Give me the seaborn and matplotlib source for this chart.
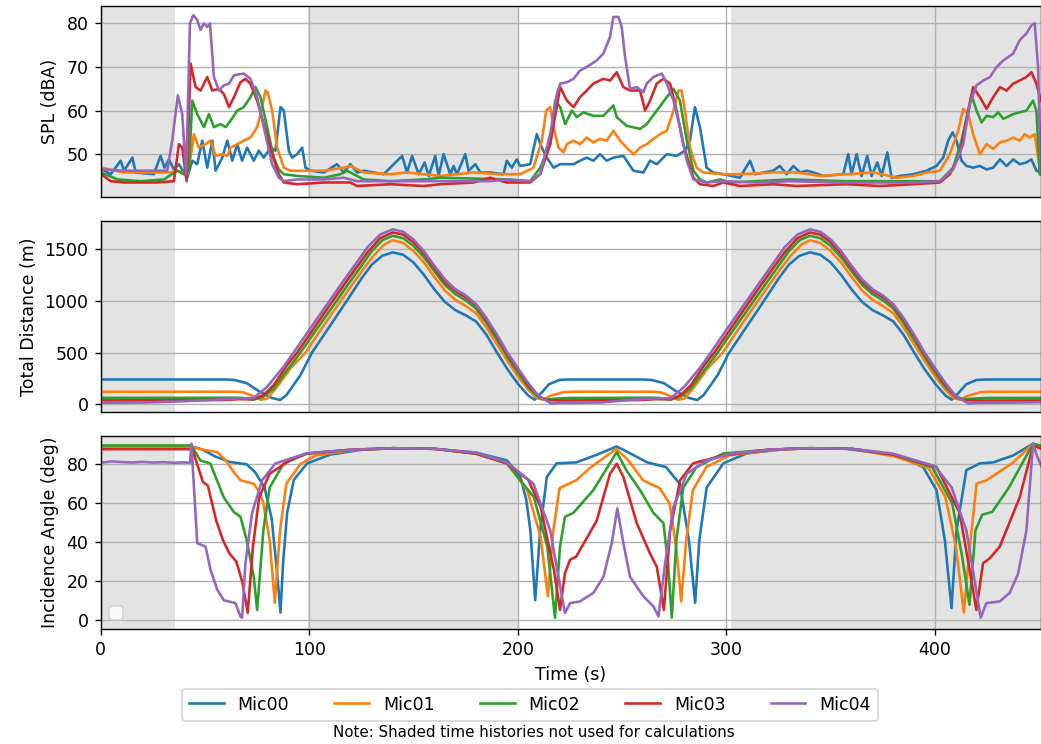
import matplotlib
matplotlib.use("Agg")
import matplotlib.pyplot as plt
import pandas as pd
import seaborn as sns

# --- data (time in s) ---
mics = ["Mic00", "Mic01", "Mic02", "Mic03", "Mic04"]
colors = ["#1f77b4", "#ff7f0e", "#2ca02c", "#d62728", "#9467bd"]

# SPL (dBA)
s00_t = [0.8, 4.8, 9.6, 11.2, 15.2, 16.8, 25.5, 28.7, 30.6, 32.7, 35.1, 37.5, 41.5, 43.9, 46.3, 48.7, 51.1, 53.5, 55.1, 58.3,
         60.7, 63.1, 65.5, 67.8, 70.2, 73.4, 75.8, 78.2, 81.4, 83.8, 86.2, 87.8, 90.2, 91.8, 94.2, 96.6, 98.2, 100.6, 107.0, 113.3,
         116.5, 119.7, 122.9, 126.1, 135.7, 144.5, 146.9, 149.3, 152.5, 155.3, 157.3, 160.4, 162.0, 164.4, 167.6, 169.2, 170.8, 174.8, 176.4, 179.6,
         182.0, 186.7, 193.1, 194.7, 197.1, 199.5, 201.1, 205.9, 209.1, 211.5, 213.9, 217.1, 220.3, 226.7, 229.8, 233.0, 236.2, 239.4, 242.6, 245.8,
         250.6, 255.4, 260.2, 263.4, 266.6, 271.4, 276.1, 280.1, 282.5, 284.9, 287.3, 290.5, 293.7, 298.5, 306.5, 311.3, 313.7, 322.4, 325.6, 328.9,
         332.1, 335.3, 338.5, 341.7, 346.5, 356.0, 358.4, 360.0, 362.4, 364.8, 367.5, 369.6, 372.3, 374.4, 377.1, 379.2, 383.2, 389.6, 395.9, 400.7,
         403.9, 406.3, 408.4, 410.3, 412.7, 415.1, 418.3, 421.5, 424.7, 427.9, 431.1, 434.3, 437.5, 440.6, 443.8, 446.2, 448.6, 450.7]
s00_v = [46.5, 45.4, 48.5, 46.2, 49.2, 45.8, 45.4, 49.6, 46.9, 48.8, 46.5, 47.7, 44.6, 48.5, 47.7, 53.1, 46.9, 53.1, 46.2, 49.2,
         53.1, 48.5, 52.3, 48.5, 51.5, 48.5, 50.8, 49.2, 51.5, 50.8, 60.8, 60.0, 50.8, 49.2, 50.0, 51.5, 46.9, 46.2, 45.8, 47.7,
         45.8, 47.7, 45.8, 46.2, 45.4, 49.6, 45.8, 49.6, 45.4, 48.1, 45.0, 49.6, 45.0, 50.0, 45.4, 47.3, 45.4, 50.0, 46.2, 47.7,
         45.8, 45.8, 45.4, 48.5, 46.9, 48.8, 47.3, 47.7, 54.6, 51.5, 49.2, 46.9, 47.7, 47.7, 48.5, 49.2, 48.5, 50.0, 48.5, 49.2,
         49.6, 46.2, 45.8, 48.5, 47.7, 50.0, 49.6, 50.8, 53.1, 60.8, 56.2, 46.9, 45.8, 45.4, 44.6, 48.5, 45.4, 46.2, 47.3, 45.4,
         47.3, 45.8, 46.2, 45.8, 45.0, 45.4, 50.0, 45.4, 50.0, 45.0, 49.6, 45.0, 48.1, 45.0, 50.4, 44.6, 45.0, 45.4, 46.2, 47.3,
         49.2, 53.1, 55.0, 53.1, 48.5, 47.3, 46.9, 47.3, 46.5, 46.9, 48.8, 47.3, 48.8, 47.7, 48.1, 48.8, 46.2, 45.8]
s01_t = [0.3, 11.2, 33.5, 36.7, 41.5, 43.1, 44.7, 47.1, 50.3, 52.7, 55.1, 58.3, 60.7, 62.3, 65.5, 68.6, 71.8, 75.0, 76.6, 79.0,
         80.1, 82.2, 84.6, 87.8, 91.0, 97.4, 107.0, 116.5, 119.7, 126.1, 138.9, 146.9, 154.9, 162.8, 178.8, 191.5, 201.1, 207.5, 211.5, 213.6,
         215.5, 217.1, 219.5, 221.9, 223.5, 226.7, 229.8, 233.0, 236.2, 239.4, 242.6, 245.8, 249.0, 252.2, 255.4, 258.6, 261.8, 265.0, 268.2, 271.4,
         274.6, 277.0, 278.5, 280.1, 282.5, 285.7, 288.9, 298.5, 306.5, 322.4, 333.7, 344.9, 357.6, 370.4, 381.6, 389.6, 395.9, 402.3, 407.1, 411.1,
         413.5, 415.9, 418.3, 421.5, 424.7, 427.9, 431.1, 434.3, 437.5, 440.6, 443.0, 445.4, 447.8, 449.4, 450.7]
s01_v = [46.9, 45.8, 45.8, 46.2, 45.4, 49.2, 54.6, 51.5, 52.3, 53.1, 49.6, 50.0, 49.6, 51.5, 52.3, 53.1, 53.8, 56.2, 59.2, 64.6,
         64.2, 60.0, 51.5, 46.9, 46.2, 46.2, 46.2, 46.9, 47.3, 45.8, 45.4, 45.8, 45.4, 45.0, 45.8, 45.4, 45.4, 46.9, 53.1, 60.0,
         60.8, 56.2, 51.5, 50.4, 52.3, 53.1, 52.3, 53.8, 52.7, 53.5, 53.1, 55.4, 53.1, 51.5, 50.0, 51.5, 52.3, 53.5, 54.6, 55.4,
         60.0, 64.6, 64.6, 60.0, 51.5, 46.9, 45.8, 45.4, 45.4, 45.8, 45.8, 45.0, 45.4, 45.8, 44.6, 45.0, 45.8, 46.2, 50.0, 55.4,
         60.4, 59.2, 54.6, 50.0, 52.3, 51.2, 52.7, 53.1, 53.8, 53.1, 54.6, 53.8, 54.6, 49.2, 45.4]
s02_t = [0.3, 8.0, 19.2, 30.3, 36.7, 39.9, 42.3, 43.9, 46.3, 49.5, 51.9, 54.3, 57.5, 59.9, 62.3, 65.5, 68.6, 71.8, 74.2, 76.6,
         79.8, 83.0, 85.4, 87.8, 94.2, 107.0, 115.0, 118.1, 126.1, 138.9, 154.9, 162.8, 194.7, 205.9, 210.7, 215.5, 217.9, 220.3, 222.7, 225.9,
         228.3, 231.4, 236.2, 241.0, 243.4, 245.8, 247.4, 252.2, 258.6, 261.8, 266.6, 271.4, 274.6, 277.7, 281.0, 284.2, 287.3, 290.5, 296.9, 301.7,
         314.5, 330.4, 357.6, 402.3, 408.7, 412.7, 415.9, 417.5, 419.9, 422.3, 424.7, 427.9, 430.3, 432.7, 437.5, 443.8, 447.0, 448.6, 450.2]
s02_v = [45.8, 44.2, 43.8, 44.2, 46.2, 45.4, 46.2, 62.3, 59.2, 56.2, 59.2, 56.2, 56.9, 56.2, 57.7, 60.0, 60.8, 63.1, 65.4, 63.1,
         56.2, 49.2, 46.5, 45.4, 45.0, 44.6, 45.4, 46.2, 44.2, 43.8, 44.2, 44.6, 44.2, 43.8, 46.9, 52.3, 62.3, 60.8, 56.9, 60.0,
         58.5, 59.6, 58.8, 58.8, 60.0, 61.2, 58.5, 56.5, 55.8, 56.9, 60.0, 63.1, 65.0, 62.3, 53.1, 46.2, 44.2, 43.5, 44.2, 43.5,
         43.8, 44.2, 43.8, 43.8, 46.9, 53.1, 60.0, 63.5, 60.0, 57.3, 58.8, 58.5, 59.6, 58.1, 59.2, 60.0, 62.3, 60.0, 45.4]
s03_t = [0.3, 4.8, 11.2, 27.1, 35.1, 37.5, 39.1, 41.2, 43.1, 45.5, 47.9, 51.1, 53.5, 56.7, 59.1, 61.5, 63.9, 67.0, 69.4, 71.8,
         75.0, 78.2, 82.2, 85.4, 87.8, 94.2, 107.0, 119.7, 122.9, 138.9, 154.9, 162.8, 178.8, 186.7, 194.7, 205.9, 210.7, 215.5, 220.3, 223.5,
         226.7, 229.8, 233.0, 236.2, 241.0, 244.2, 247.4, 250.6, 253.8, 258.6, 261.0, 263.4, 266.6, 269.8, 273.0, 276.1, 279.3, 284.2, 287.3, 293.7,
         298.5, 306.5, 322.4, 333.7, 357.6, 373.6, 389.6, 402.3, 407.1, 411.9, 415.9, 418.3, 421.5, 424.7, 427.9, 431.1, 434.3, 437.5, 440.6, 443.8,
         446.2, 448.6, 450.7]
s03_v = [45.4, 43.8, 43.5, 43.5, 43.8, 52.3, 51.5, 43.8, 70.8, 65.4, 64.6, 67.7, 64.6, 65.0, 63.8, 60.8, 63.1, 66.5, 67.3, 66.2,
         62.3, 56.9, 50.0, 45.4, 43.5, 43.1, 43.5, 43.5, 42.7, 43.1, 42.7, 43.1, 43.5, 44.6, 43.5, 43.5, 45.4, 52.3, 65.4, 62.3,
         60.8, 63.1, 64.6, 66.2, 67.3, 66.9, 68.8, 65.4, 64.6, 64.6, 60.0, 62.3, 66.2, 67.3, 66.2, 60.0, 52.3, 44.6, 43.1, 42.7,
         43.5, 42.7, 43.1, 42.7, 43.1, 42.7, 43.1, 43.5, 45.4, 50.0, 60.0, 65.4, 63.1, 60.4, 63.1, 65.4, 64.6, 66.2, 66.9, 67.7,
         68.8, 66.2, 62.3]
s04_t = [0.3, 11.2, 24.0, 31.9, 34.3, 37.0, 39.1, 41.0, 42.8, 44.4, 46.3, 47.9, 49.5, 51.1, 52.4, 54.3, 56.7, 59.1, 61.5, 63.9,
         68.6, 71.8, 75.0, 78.2, 82.2, 85.4, 87.8, 94.2, 107.0, 116.5, 122.9, 138.9, 154.9, 162.8, 186.7, 194.7, 205.9, 210.7, 215.5, 218.7,
         220.3, 223.5, 226.7, 229.8, 233.0, 237.8, 241.0, 244.2, 245.8, 248.2, 249.8, 251.4, 253.8, 257.0, 260.2, 261.8, 265.0, 269.0, 271.4, 274.6,
         277.7, 281.0, 284.2, 290.5, 298.5, 314.5, 330.4, 357.6, 389.6, 402.3, 408.7, 413.5, 416.7, 419.9, 423.1, 426.3, 429.5, 432.7, 437.5, 440.6,
         443.8, 446.2, 447.8, 449.4, 450.7]
s04_v = [46.5, 46.2, 46.2, 46.2, 53.1, 63.5, 59.2, 45.4, 80.0, 81.9, 80.8, 78.5, 80.0, 79.2, 80.0, 67.7, 64.6, 65.8, 66.2, 68.1,
         68.5, 67.3, 63.1, 56.2, 47.7, 44.6, 43.8, 44.2, 44.2, 44.6, 43.8, 43.8, 43.8, 43.8, 43.8, 44.2, 43.8, 45.4, 54.6, 63.8,
         66.2, 66.5, 67.3, 69.2, 70.0, 71.5, 73.1, 76.9, 81.5, 81.5, 79.2, 72.3, 65.0, 65.4, 64.2, 66.2, 67.7, 68.5, 66.2, 62.3,
         56.2, 48.5, 44.2, 43.5, 43.8, 43.5, 43.8, 43.5, 43.5, 43.8, 46.5, 52.3, 61.5, 65.8, 66.9, 67.7, 70.0, 71.5, 73.1, 76.2,
         77.7, 79.6, 80.0, 70.0, 46.2]

# Total distance (m)
d00_t = [0, 60, 64, 70, 76, 82, 86, 89, 95.8, 101.3, 110, 118, 125, 130, 135, 140, 145, 150, 155, 160,
         165, 170, 175, 180, 185, 190, 195, 200, 205, 208, 211, 215, 220, 224,
         260, 264, 270, 276, 282, 286, 289, 295.8, 301.3, 310, 318, 325, 330, 335, 340, 345, 350, 355, 360, 365,
         370, 375, 380, 385, 390, 395, 400, 405, 408, 411, 415, 420, 424, 451]
d00_v = [240, 240, 236, 205, 125, 62, 42, 88, 283, 500, 760, 1000, 1215, 1350, 1435, 1468, 1445, 1370, 1250, 1110,
         990, 910, 860, 800, 670, 500, 340, 200, 85, 45, 105, 195, 236, 240,
         240, 236, 205, 125, 62, 42, 88, 283, 500, 760, 1000, 1215, 1350, 1435, 1468, 1445, 1370, 1250, 1110, 990,
         910, 860, 800, 670, 500, 340, 200, 85, 45, 105, 195, 236, 240, 240]
d01_t = [0, 64, 68, 72, 76.6, 79.8, 84.6, 91, 98.2, 105, 112, 120, 126, 131, 136, 140, 145, 150, 155, 160,
         165, 170, 175, 180, 185, 190, 195, 200, 205, 209, 212, 216, 222, 226,
         264, 268, 272, 276.6, 279.8, 284.6, 291, 298.2, 305, 312, 320, 326, 331, 336, 340, 345, 350, 355, 360, 365,
         370, 375, 380, 385, 390, 395, 400, 405, 409, 412, 416, 422, 426, 451]
d01_v = [122, 122, 118, 90, 45, 55, 170, 348, 500, 705, 910, 1140, 1310, 1440, 1545, 1585, 1560, 1480, 1370, 1230,
         1100, 1010, 950, 880, 740, 580, 420, 270, 140, 60, 45, 85, 118, 122,
         122, 118, 90, 45, 55, 170, 348, 500, 705, 910, 1140, 1310, 1440, 1545, 1585, 1560, 1480, 1370, 1230, 1100,
         1010, 950, 880, 740, 580, 420, 270, 140, 60, 45, 85, 118, 122, 122]
d02_t = [0, 64, 68, 73.3, 78.1, 83, 89.4, 95.8, 103, 110, 118, 124, 130, 135, 140, 145, 150, 155, 160, 165,
         170, 175, 180, 185, 190, 195, 200, 205, 210, 213, 218, 225,
         264, 268, 273.3, 278.1, 283, 289.4, 295.8, 303, 310, 318, 324, 330, 335, 340, 345, 350, 355, 360, 365, 370,
         375, 380, 385, 390, 395, 400, 405, 410, 413, 418, 425, 451]
d02_v = [62, 64, 62, 45, 75, 155, 331, 500, 710, 910, 1140, 1310, 1480, 1585, 1628, 1605, 1530, 1420, 1285, 1155,
         1065, 1005, 925, 785, 625, 460, 305, 165, 68, 45, 55, 62,
         64, 62, 45, 75, 155, 331, 500, 710, 910, 1140, 1310, 1480, 1585, 1628, 1605, 1530, 1420, 1285, 1155, 1065,
         1005, 925, 785, 625, 460, 305, 165, 68, 45, 55, 62, 62]
d03_t = [0, 60, 66, 73, 78.1, 83, 89.4, 94.2, 101, 108, 116, 122, 128, 134, 140, 145, 150, 155, 160, 165,
         170, 175, 180, 185, 190, 195, 200, 205, 210, 214, 220,
         260, 266, 273, 278.1, 283, 289.4, 294.2, 301, 308, 316, 322, 328, 334, 340, 345, 350, 355, 360, 365, 370,
         375, 380, 385, 390, 395, 400, 405, 410, 414, 420, 451]
d03_v = [38, 42, 50, 48, 90, 186, 380, 500, 700, 905, 1135, 1305, 1470, 1605, 1660, 1640, 1565, 1455, 1315, 1185,
         1095, 1035, 955, 815, 655, 485, 335, 185, 78, 40, 37,
         42, 50, 48, 90, 186, 380, 500, 700, 905, 1135, 1305, 1470, 1605, 1660, 1640, 1565, 1455, 1315, 1185, 1095,
         1035, 955, 815, 655, 485, 335, 185, 78, 40, 37, 38]
d04_t = [0, 20, 40, 55, 67, 73.3, 79.8, 87.7, 92.5, 100, 108, 116, 122, 128, 134, 140, 145, 150, 155, 160,
         165, 170, 175, 180, 185, 190, 195, 200, 205, 210, 216,
         220, 240, 255, 267, 273.3, 279.8, 287.7, 292.5, 300, 308, 316, 322, 328, 334, 340, 345, 350, 355, 360, 365,
         370, 375, 380, 385, 390, 395, 400, 405, 410, 416, 420, 440, 451]
d04_v = [15, 18, 30, 45, 58, 60, 170, 363, 500, 720, 950, 1180, 1350, 1520, 1640, 1690, 1667, 1592, 1478, 1338,
         1208, 1112, 1052, 967, 832, 672, 500, 350, 205, 80, 8,
         14, 18, 45, 58, 60, 170, 363, 500, 720, 950, 1180, 1350, 1520, 1640, 1690, 1667, 1592, 1478, 1338, 1208,
         1112, 1052, 967, 832, 672, 500, 350, 205, 80, 8, 14, 18, 22]

# Incidence angle (deg)
a00_t = [0, 43.5, 46, 49, 55, 62, 70, 74, 78.6, 82, 84.5, 86.2, 87.5, 89.4, 92.6, 99, 110, 125, 140, 160,
         180, 194.8, 201.2, 204, 206, 208.3, 210.7, 213.9, 218.6, 228, 238, 247.4, 255, 262, 271, 277.6, 282, 285, 287, 290.5,
         298.5, 309.6, 328.7, 340, 357.6, 381.5, 394.3, 400.7, 404.7, 407.9, 410.3, 415, 421.5, 427.9, 437.5, 447, 451]
a00_v = [89.3, 89.3, 88.5, 87.5, 84, 81.2, 80, 76, 68, 52, 25, 3.7, 30, 55, 72, 80.5, 85, 87.5, 88.3, 88,
         86, 82, 73.5, 62, 46, 10, 46, 73.5, 80.5, 81, 85, 89.2, 85, 81, 78.6, 70, 41, 8.7, 41, 68,
         80.5, 85.6, 88, 88.3, 88, 84.6, 78.6, 66.7, 41, 6, 46, 77, 80.5, 81, 84.6, 90.6, 89]
a01_t = [0, 43.5, 47, 52, 55.9, 60, 63.8, 67, 73.4, 76, 78, 81, 83.5, 86, 89, 95.6, 103, 120, 140, 160,
         180, 194.8, 204.5, 210.9, 214.4, 217, 220, 228, 234.4, 247.2, 253, 260, 268, 272.7, 275.9, 278.3, 280.7, 283.9, 290.3, 301.5,
         320, 340, 360, 381, 397, 405, 410, 413.8, 416.7, 419.9, 424.7, 429.5, 437.5, 447, 451]
a01_v = [89, 89, 88, 87, 86.3, 82, 76, 71.8, 70, 66, 60, 41, 8.7, 46, 70, 80, 84.6, 87.2, 88.3, 88,
         85.5, 80.5, 66.7, 42.7, 12, 46, 67.7, 71.8, 78, 88, 82, 71.8, 67.7, 60, 37.6, 9.4, 41, 66.7, 78.6, 84.6,
         87.2, 88.3, 88, 84, 78, 63, 37.6, 3.7, 37.6, 70, 71.8, 75.2, 81, 90.6, 89]
a02_t = [0, 43.5, 47.8, 52.6, 59, 63.8, 67, 70, 73.4, 75, 78, 81, 87.7, 99, 120, 140, 160, 180, 194.8, 207.7,
         214.1, 217.8, 220.2, 222.6, 226.6, 236.2, 247.4, 252, 258.6, 265, 269.8, 272, 273.8, 276, 279.3, 285.7, 298.5, 320, 340, 360,
         380, 398.6, 408.2, 413, 416.5, 419.4, 422.6, 427.4, 435.4, 447, 451]
a02_v = [89.7, 89.7, 82, 80.4, 63, 55.5, 53, 41, 22, 5, 46, 68, 80.5, 85.6, 87.5, 88.3, 88, 85.5, 80.5, 63,
         37.6, 1, 37.6, 53, 55, 66.7, 86.3, 77, 66.7, 55, 49.7, 29, 1, 41, 68, 78.6, 85.6, 87.5, 88.3, 88,
         85, 78.6, 60, 32.5, 7.7, 46, 54, 55.5, 68, 90.6, 89.5]
a03_t = [0, 43.5, 44.5, 49, 51.4, 55.4, 58.6, 61.8, 65, 68, 70.5, 73, 76, 81, 90.7, 98.6, 120, 140, 160, 180,
         194.8, 205, 210.9, 217.3, 220.2, 222.6, 225, 228, 237.8, 244.2, 247.4, 250.6, 257, 263.4, 266.6, 270, 273, 277.8, 284, 298.5,
         320, 340, 360, 380, 400.7, 411.8, 416.6, 419.8, 423, 426.2, 431, 440.6, 447, 451]
a03_v = [87.8, 87.8, 86, 71, 69, 51, 41, 34, 30, 19, 3.5, 37.6, 63, 75.2, 82, 85.5, 87.5, 88.3, 88, 85.5,
         80.5, 72, 58, 25.6, 5, 24, 30.8, 32.5, 51, 75.2, 80.3, 73.5, 49.7, 34, 27.3, 5, 46, 71.8, 80.5, 84.6,
         87.5, 88.3, 88, 85, 78.6, 55, 25.6, 5, 29, 31.6, 37.6, 63, 89.7, 88]
a04_t = [0, 5, 10, 15, 20, 25, 30, 35, 40, 42.8, 43.5, 46.3, 50.3, 52.7, 55.9, 59, 64.6, 67, 67.8, 69.4,
         72.6, 77.4, 83.8, 98.6, 120, 140, 160, 180, 194.8, 207.5, 215.5, 220.3, 222.6, 225, 229.8, 236.2, 241, 245, 247.7, 250.6,
         253.8, 260.2, 265, 267.4, 270.6, 274.6, 281, 290.5, 303, 320, 340, 360, 380, 400, 408, 415, 421.9, 424.6, 431, 435.8,
         439.8, 443.8, 447, 449, 451]
a04_v = [80.8, 81.5, 81.2, 80.9, 81.3, 80.9, 81.1, 80.8, 81, 80.8, 90.6, 39.4, 37.6, 25.6, 15.4, 10, 8.5, 1.7, 1, 29,
         55, 71.8, 80.5, 85.6, 87.5, 88.3, 88, 86, 81, 70, 46, 17, 3.4, 8.5, 9.4, 13.8, 22, 39.3, 57.3, 39.3,
         22, 12, 6.8, 1.7, 29, 58, 75.2, 82, 85.6, 87.5, 88.3, 88, 85.5, 79, 68, 46, 1, 8.5, 9.4, 13.8,
         23.6, 46, 90.6, 84, 79]

# time windows that are greyed out
shaded_spans = [(0, 35.6), (99.5, 200.3), (302, 452)]


def to_frame(series):
    frames = []
    for mic, (t, v) in zip(mics, series):
        frames.append(pd.DataFrame({"time": t, "value": v, "mic": mic}))
    return pd.concat(frames, ignore_index=True)


spl_df = to_frame([(s00_t, s00_v), (s01_t, s01_v), (s02_t, s02_v), (s03_t, s03_v), (s04_t, s04_v)])
dist_df = to_frame([(d00_t, d00_v), (d01_t, d01_v), (d02_t, d02_v), (d03_t, d03_v), (d04_t, d04_v)])
ang_df = to_frame([(a00_t, a00_v), (a01_t, a01_v), (a02_t, a02_v), (a03_t, a03_v), (a04_t, a04_v)])

# --- figure ---
plt.rcParams["font.family"] = ["DejaVu Sans"]
fig = plt.figure(figsize=(1041 / 125, 744 / 125), dpi=125)
left, width = 0.0967, 0.9033
ax1 = fig.add_axes([left, 0.7348, width, 0.2571])
ax2 = fig.add_axes([left, 0.4458, width, 0.2576], sharex=ax1)
ax3 = fig.add_axes([left, 0.1546, width, 0.2594], sharex=ax1)

panels = [
    (ax1, spl_df, "SPL (dBA)", (40.1, 84.0), [50, 60, 70, 80]),
    (ax2, dist_df, "Total Distance (m)", (-77, 1774), [0, 500, 1000, 1500]),
    (ax3, ang_df, "Incidence Angle (deg)", (-4.8, 94.6), [0, 20, 40, 60, 80]),
]

for ax, df, ylabel, ylim, yticks in panels:
    sns.lineplot(data=df, x="time", y="value", hue="mic", palette=colors,
                 estimator=None, sort=False, linewidth=1.5, ax=ax,
                 legend=(ax is ax1))
    for start, end in shaded_spans:
        ax.axvspan(start, end, color="gray", alpha=0.22, lw=0)
    ax.grid(True)
    ax.set_ylabel(ylabel)
    ax.set_xlabel("")
    ax.set_ylim(*ylim)
    ax.set_yticks(yticks)

ax1.set_xlim(0, 450.8)
ax3.set_xticks([0, 100, 200, 300, 400])
for ax in (ax1, ax2):
    ax.tick_params(axis="x", labelbottom=False, bottom=False)
ax3.set_xlabel("Time (s)")

# shared legend at the bottom of the figure
handles, labels = ax1.get_legend_handles_labels()
ax1.get_legend().remove()
fig.legend(handles, labels, loc="center", ncol=5, columnspacing=2.6,
           bbox_to_anchor=(0.509, 0.053))

# the original also carries an empty legend box in the lower panel
ax3.legend(handles=[], labels=[], loc="lower left")

fig.text(0.513, 0.016, "Note: Shaded time histories not used for calculations",
         ha="center", va="center", fontsize=8.7)

fig.savefig("out.png", dpi=125)
